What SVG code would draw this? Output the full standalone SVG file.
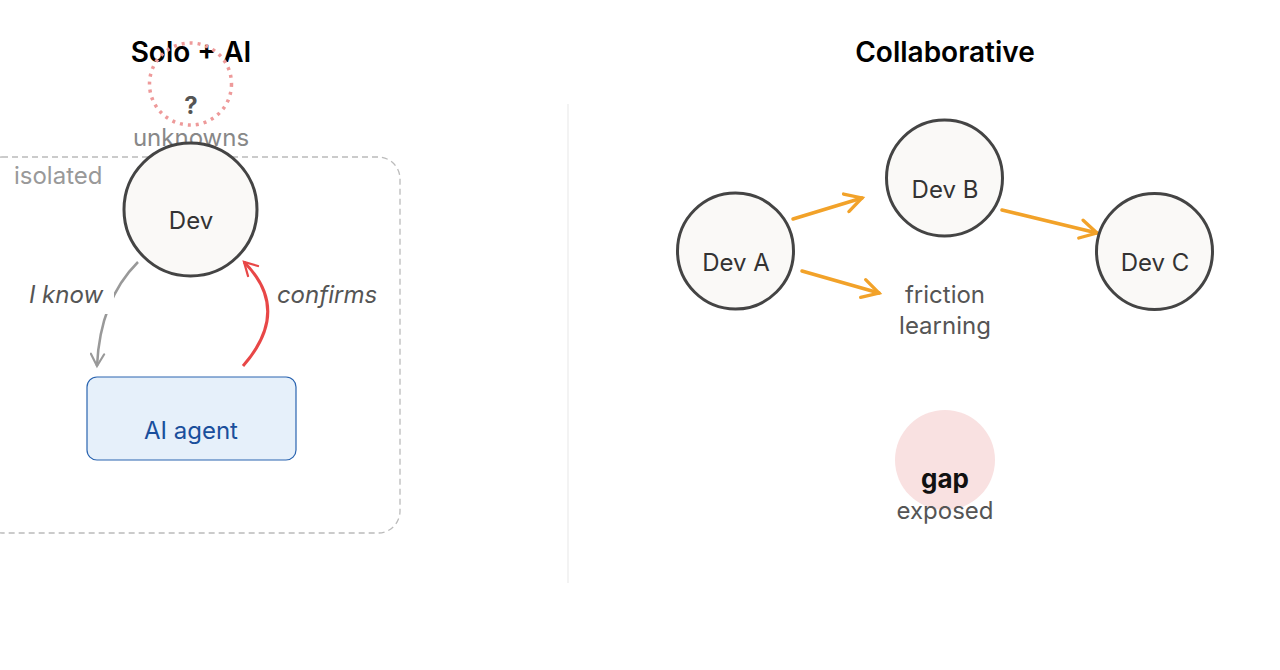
<svg xmlns="http://www.w3.org/2000/svg" width="1280" height="670" viewBox="0 0 1280 670">
<style>
text{font-family:Inter,"Liberation Sans",sans-serif;font-size:24px;text-anchor:middle}
.title{font-size:28px;font-weight:600;fill:#000}
.node{fill:#faf9f7;stroke:#444;stroke-width:3}
.lbl{fill:#333}
.muted{fill:#888}
.it{font-style:italic;fill:#555}
.orange{fill:none;stroke:#f2a229;stroke-width:3.5;stroke-linecap:round}
</style>
<defs>
<marker id="ao" viewBox="0 0 12 12" refX="10" refY="6" markerWidth="22" markerHeight="22" markerUnits="userSpaceOnUse" orient="auto"><path d="M1,1 L10,6 L1,11" fill="none" stroke="#f2a229" stroke-width="1.8" stroke-linecap="round"/></marker>
<marker id="ag" viewBox="0 0 12 12" refX="10" refY="6" markerWidth="16" markerHeight="16" markerUnits="userSpaceOnUse" orient="auto"><path d="M1,1 L10,6 L1,11" fill="none" stroke="#999" stroke-width="1.6" stroke-linecap="round"/></marker>
<marker id="ar" viewBox="0 0 12 12" refX="10" refY="6" markerWidth="17" markerHeight="17" markerUnits="userSpaceOnUse" orient="auto"><path d="M1,1 L10,6 L1,11" fill="none" stroke="#e84747" stroke-width="1.6" stroke-linecap="round"/></marker>
</defs>
<rect width="1280" height="670" fill="#fff"/>
<line x1="568" y1="104" x2="568" y2="583" stroke="#efefef" stroke-width="1.5"/>
<text class="title" x="191" y="62">Solo + AI</text>
<text class="title" x="945" y="62">Collaborative</text>
<g id="unknowns">
<circle cx="190.5" cy="84" r="41" fill="none" stroke="#ee9a9a" stroke-width="3.5" stroke-dasharray="3 5"/>
<text x="191" y="114" style="font-weight:700;fill:#555">?</text>
<text class="muted" x="191" y="146">unknowns</text>
</g>
<g id="isolated">
<rect x="-20" y="157" width="420" height="376" rx="22" fill="none" stroke="#bbb" stroke-width="1.3" stroke-dasharray="6 4"/>
<text x="14" y="184" style="text-anchor:start;fill:#999">isolated</text>
</g>
<g id="connectors">
<path d="M138,262 Q100,300 97,366" fill="none" stroke="#999" stroke-width="2.5" marker-end="url(#ag)"/>
<rect x="20" y="280" width="94" height="34" fill="#fff"/>
<path d="M243,366 Q292,310 244,262" fill="none" stroke="#e84747" stroke-width="3" marker-end="url(#ar)"/>
<text class="it" x="66" y="303">I know</text>
<text class="it" x="327" y="303">confirms</text>
<path class="orange" d="M793,219 L862,198" marker-end="url(#ao)"/>
<path class="orange" d="M802,271 L879,293" marker-end="url(#ao)"/>
<path class="orange" d="M1002,210 L1097,233" marker-end="url(#ao)"/>
</g>
<g id="dev">
<circle class="node" cx="190.5" cy="209.5" r="66.5"/>
<text class="lbl" x="191" y="229">Dev</text>
</g>
<g id="ai-agent">
<rect x="87" y="377" width="209" height="83" rx="10" fill="#e6f0fa" stroke="#2a64b0" stroke-width="1.2"/>
<text x="191" y="439" style="fill:#1a4f9c">AI agent</text>
</g>
<g id="dev-a">
<circle class="node" cx="735.5" cy="251" r="58"/>
<text class="lbl" x="736" y="271">Dev A</text>
</g>
<g id="dev-b">
<circle class="node" cx="944.5" cy="178" r="58"/>
<text class="lbl" x="945" y="198">Dev B</text>
</g>
<g id="dev-c">
<circle class="node" cx="1154.5" cy="251.5" r="58"/>
<text class="lbl" x="1155" y="271">Dev C</text>
</g>
<g id="friction">
<text x="945" y="303" style="fill:#555">friction</text>
<text x="945" y="334" style="fill:#555">learning</text>
</g>
<g id="gap">
<circle cx="945" cy="460" r="50" fill="#f9e1e1"/>
<text x="945" y="488" style="font-size:26px;font-weight:700;fill:#111">gap</text>
<text x="945" y="519" style="fill:#555">exposed</text>
</g>
</svg>
